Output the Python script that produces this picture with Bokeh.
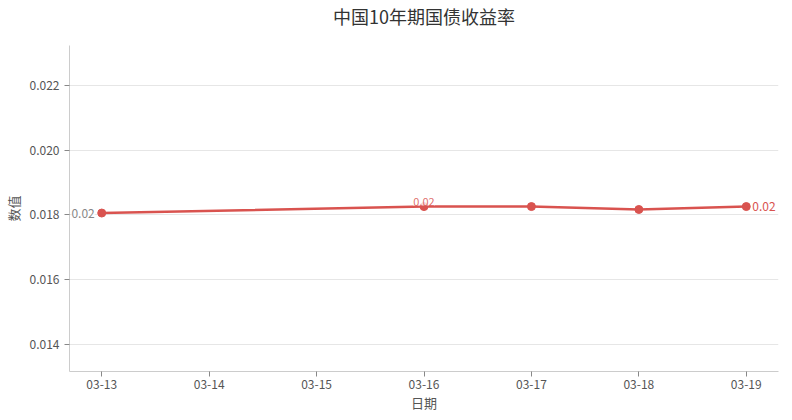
from datetime import datetime, timedelta

from bokeh.core.properties import value
from bokeh.embed import file_html
from bokeh.models import (ColumnDataSource, DatetimeTickFormatter, DaysTicker,
                          LabelSet, Range1d, FixedTicker, NumeralTickFormatter, Title)
from bokeh.plotting import figure
from bokeh.resources import INLINE

# data
dates = ["2026-03-13", "2026-03-16", "2026-03-17", "2026-03-18", "2026-03-19"]
values = [0.01806, 0.01826, 0.01826, 0.01817, 0.01826]
y_ticks = [0.014, 0.016, 0.018, 0.020, 0.022]

FONT = "Noto Sans CJK SC"
RED = "#d9534f"

x = [datetime.strptime(d, "%Y-%m-%d") for d in dates]
source = ColumnDataSource(data=dict(x=x, y=values))

p = figure(x_axis_type="datetime",
           frame_width=709, frame_height=326,
           output_backend="svg", toolbar_location=None,
           title="中国10年期国债收益率",
           x_axis_label="日期", y_axis_label="数值")
p.min_border_left = 61
p.min_border_right = 6
p.min_border_top = 36
p.min_border_bottom = 40

p.x_range = Range1d(x[0] - timedelta(hours=7.2), x[-1] + timedelta(hours=7.2))
p.y_range = Range1d(0.01317, 0.02323)

p.title.align = "center"
p.title.standoff = 0
p.title.text_font = FONT
p.title.text_font_size = "18px"
p.title.text_font_style = "normal"
p.title.text_color = "#333333"
# empty spacer between title and frame
p.add_layout(Title(text=" ", text_font_size="13px", standoff=0), "above")

p.outline_line_color = None
p.xgrid.grid_line_color = None
p.ygrid.grid_line_color = "#e6e6e6"
p.ygrid.grid_line_width = 1

p.xaxis.ticker = DaysTicker(days=list(range(1, 32)))
p.xaxis.formatter = DatetimeTickFormatter(days="%m-%d", months="%m-%d")
p.yaxis.ticker = FixedTicker(ticks=y_ticks)
p.yaxis.formatter = NumeralTickFormatter(format="0.000")
p.xaxis.major_label_standoff = 3
p.xaxis.axis_label_standoff = 1
p.yaxis.axis_label_standoff = 4

for ax in (p.xaxis, p.yaxis):
    ax.axis_line_color = "#cccccc"
    ax.major_tick_line_color = "#888888"
    ax.major_tick_out = 5
    ax.major_tick_in = 0
    ax.minor_tick_line_color = None
    ax.major_label_text_font = FONT
    ax.major_label_text_font_size = "12px"
    ax.major_label_text_color = "#555555"
    ax.axis_label_text_font = FONT
    ax.axis_label_text_font_size = "13px"
    ax.axis_label_text_font_style = "normal"
    ax.axis_label_text_color = "#555555"

p.line("x", "y", source=source, line_color=RED, line_width=2.5)
p.scatter("x", "y", source=source, size=8, fill_color=RED, line_color=RED)

# value labels: first, 03-16 and last point
first = ColumnDataSource(data=dict(x=[x[0]], y=[values[0]], t=[f"{values[0]:.2f}"]))
mid = ColumnDataSource(data=dict(x=[x[1]], y=[values[1]], t=[f"{values[1]:.2f}"]))
last = ColumnDataSource(data=dict(x=[x[-1]], y=[values[-1]], t=[f"{values[-1]:.2f}"]))

p.add_layout(LabelSet(x="x", y="y", text="t", source=first,
                      x_offset=-7, text_align="right", text_baseline="middle",
                      text_font=value(FONT), text_font_size=value("12px"),
                      text_color="#888888",
                      background_fill_color="white", background_fill_alpha=0.9))
p.add_layout(LabelSet(x="x", y="y", text="t", source=mid,
                      y_offset=1, text_align="center", text_baseline="bottom",
                      text_font=value(FONT), text_font_size=value("11px"),
                      text_color=RED, text_alpha=0.85,
                      background_fill_color="white", background_fill_alpha=0.8))
p.add_layout(LabelSet(x="x", y="y", text="t", source=last,
                      x_offset=6, text_align="left", text_baseline="middle",
                      text_font=value(FONT), text_font_size=value("12px"),
                      text_color=RED))

open("out.html", "w").write(file_html(p, INLINE))
